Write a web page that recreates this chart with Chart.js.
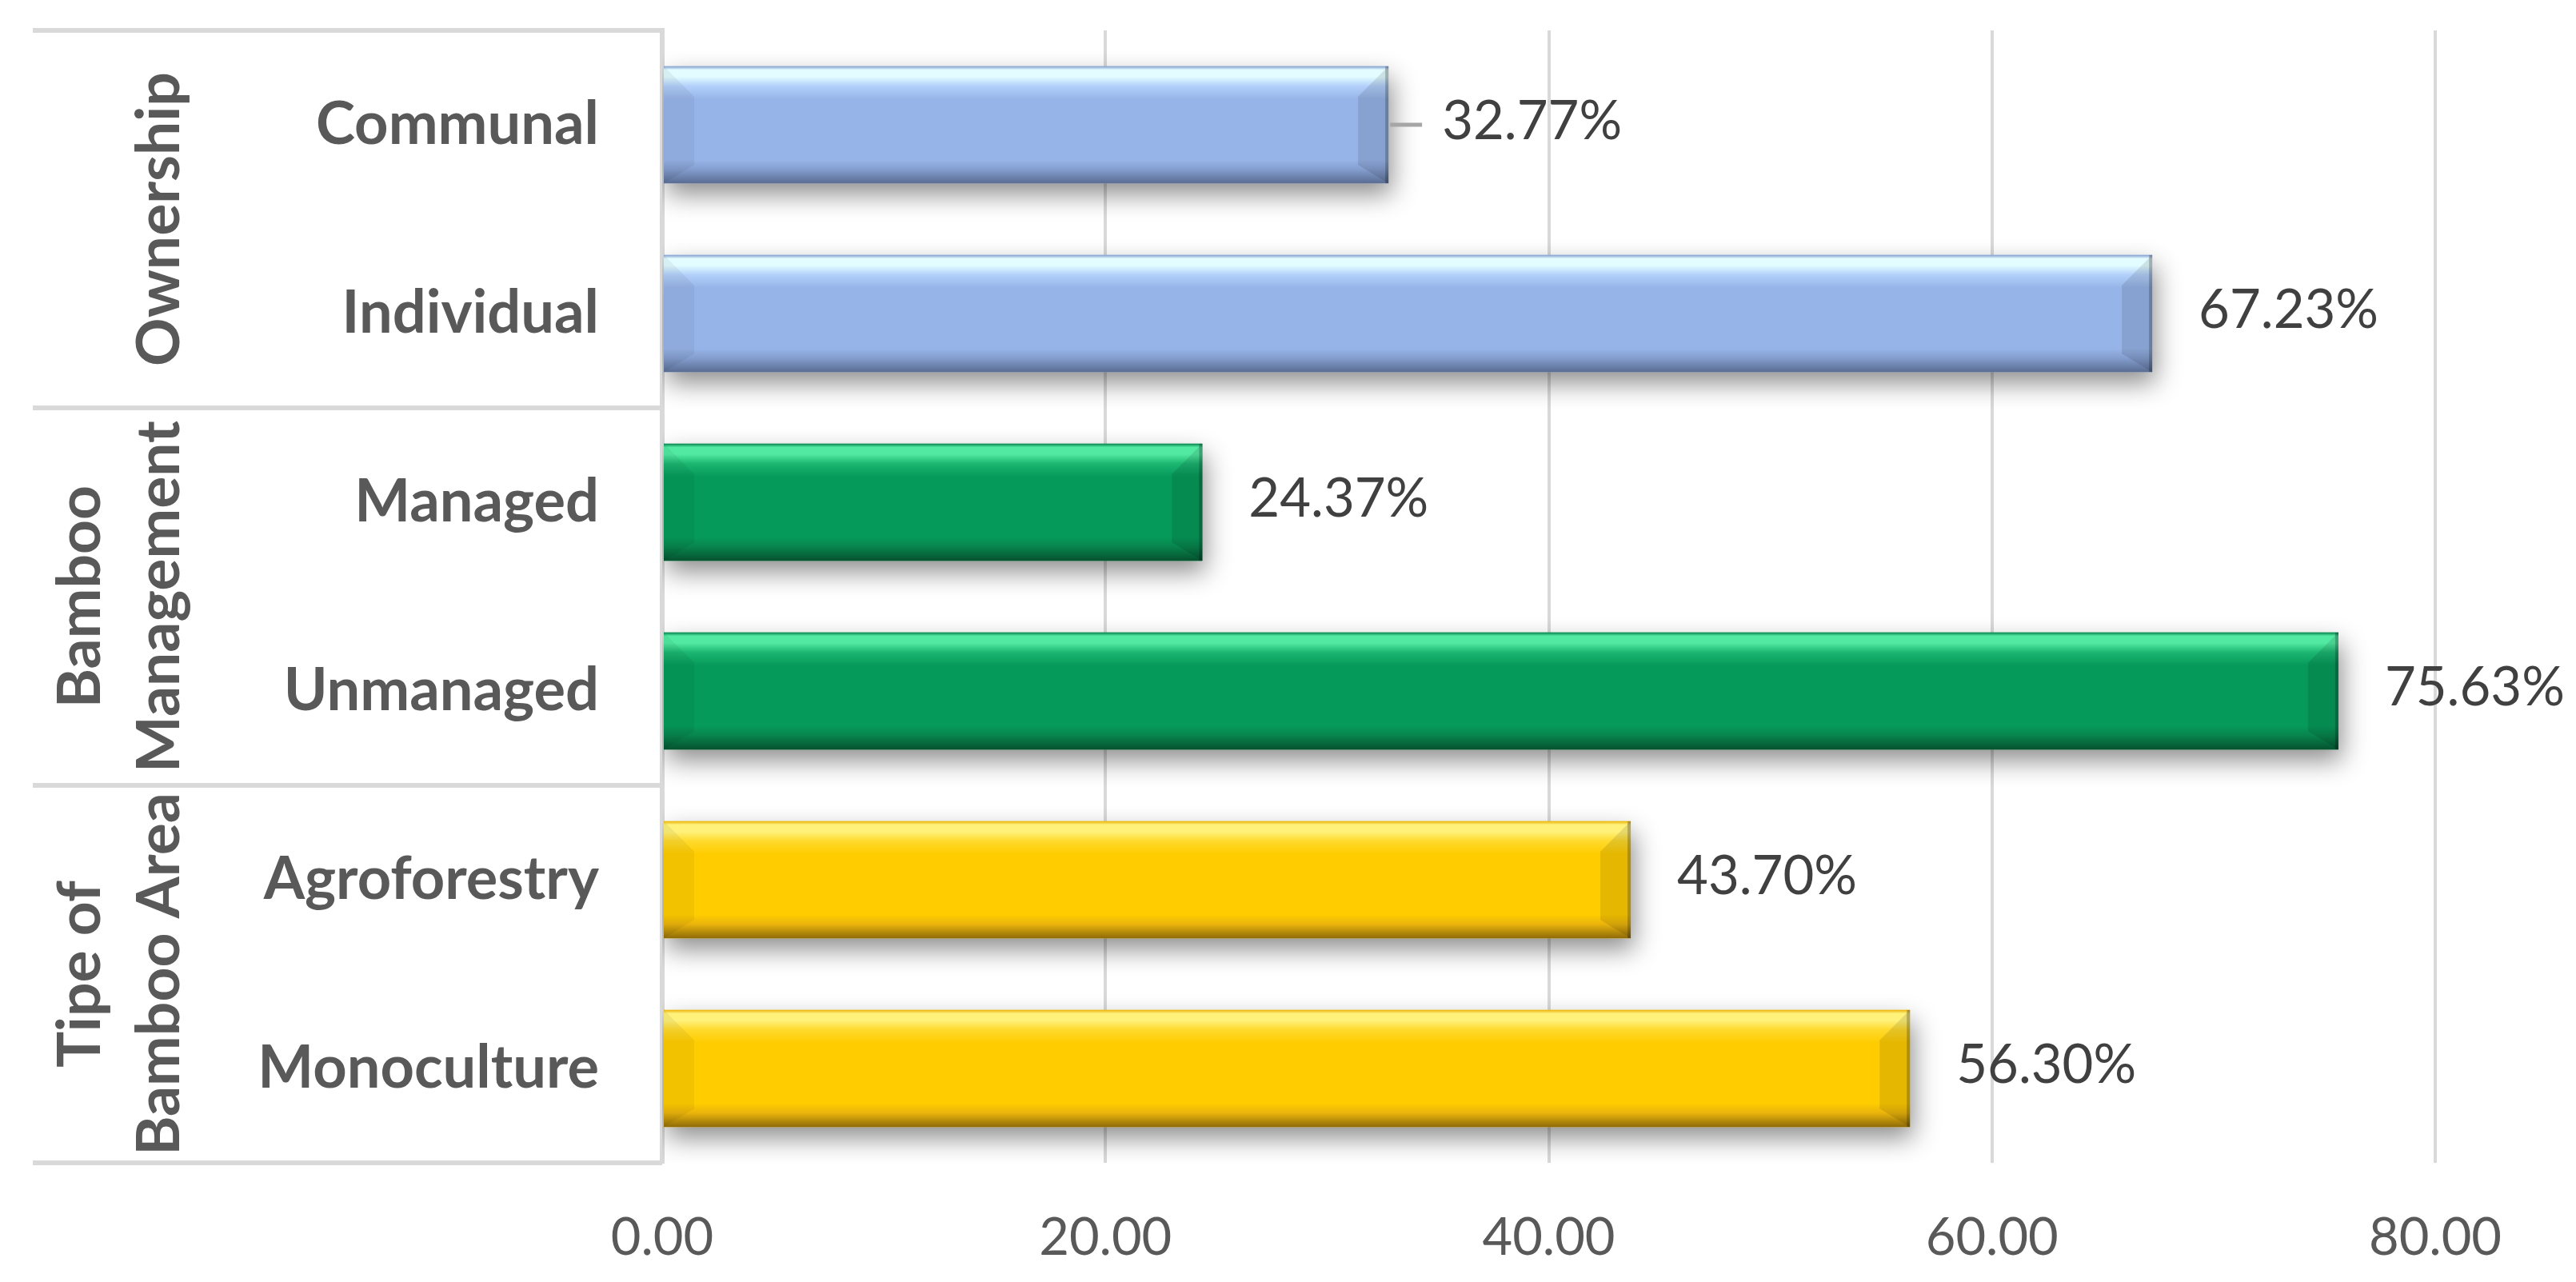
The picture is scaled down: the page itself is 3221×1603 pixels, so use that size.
<!DOCTYPE html>
<html>
<head>
<meta charset="utf-8">
<title>Bamboo area characteristics</title>
<script src="https://cdn.jsdelivr.net/npm/chart.js@4.4.1/dist/chart.umd.min.js"></script>
<style>
  html, body { margin: 0; padding: 0; background: #fff; }
  #wrap { width: 3221px; height: 1603px; }
</style>
</head>
<body>
<div id="wrap"><canvas id="grafico" width="3221" height="1603"></canvas></div>
<script>
// === Data ===
const categories = ["Communal", "Individual", "Managed", "Unmanaged", "Agroforestry", "Monoculture"];
const values = [32.77, 67.23, 24.37, 75.63, 43.70, 56.30];
const groupNames = [["Ownership"], ["Bamboo", "Management"], ["Tipe of", "Bamboo Area"]];
const groupSizes = [2, 2, 2];
const xTicks = [0, 20, 40, 60, 80];

// === Styles ===
// one set of shades per group (bevelled bars)
const shades = [
    { base: "#97B4E8", hi: "#E2FCFF", light: "#B2D0FA", low: "#849ECF", edge: "#5A6D92" },
    { base: "#069A5A", hi: "#52EAA2", light: "#1CB671", low: "#08844D", edge: "#05522F" },
    { base: "#FFCC00", hi: "#FFF17A", light: "#FFDA2C", low: "#EAB40C", edge: "#8E6B08" },
];
const gridColor = "#D9D9D9";
const textColor = "#595959";
const leaderIndex = 0; // label that was dragged out in the original, has a leader line

function groupOf(i) {
    let n = 0;
    for (let g = 0; g < groupSizes.length; g++) {
        n += groupSizes[g];
        if (i < n) return g;
    }
    return groupSizes.length - 1;
}
const barShade = (i) => shades[groupOf(i)];

// === Plugin: drop shadow + bevel shading on the bars ===
const bevelBars = {
    id: "bevelBars",
    beforeDatasetDraw(chart) {
        const ctx = chart.ctx;
        ctx.save();
        ctx.shadowColor = "rgba(0,0,0,0.45)";
        ctx.shadowBlur = 30;
        ctx.shadowOffsetX = 4;
        ctx.shadowOffsetY = 14;
    },
    afterDatasetDraw(chart, args) {
        const ctx = chart.ctx;
        ctx.restore();
        args.meta.data.forEach((bar, i) => {
            const s = barShade(i);
            const { x, y, base, height } = bar.getProps(["x", "y", "base", "height"], true);
            const top = y - height / 2, bottom = y + height / 2;
            const left = base, right = x;

            const g = ctx.createLinearGradient(0, top, 0, bottom);
            g.addColorStop(0, s.low);
            g.addColorStop(0.03, s.hi);
            g.addColorStop(0.09, s.hi);
            g.addColorStop(0.17, s.light);
            g.addColorStop(0.28, s.base);
            g.addColorStop(0.8, s.base);
            g.addColorStop(0.88, s.low);
            g.addColorStop(1, s.edge);
            ctx.fillStyle = g;
            ctx.fillRect(left, top, right - left, height);

            const b = Math.min(38, (right - left) / 2, height / 2);
            // left chamfer
            ctx.fillStyle = "rgba(0,0,0,0.05)";
            ctx.beginPath();
            ctx.moveTo(left, top);
            ctx.lineTo(left + b, top + b);
            ctx.lineTo(left + b, bottom - b * 0.6);
            ctx.lineTo(left, bottom);
            ctx.closePath();
            ctx.fill();
            // right chamfer
            ctx.fillStyle = "rgba(0,0,0,0.1)";
            ctx.beginPath();
            ctx.moveTo(right, top);
            ctx.lineTo(right - b, top + b);
            ctx.lineTo(right - b, bottom - b * 0.6);
            ctx.lineTo(right, bottom);
            ctx.closePath();
            ctx.fill();
            ctx.fillStyle = "rgba(0,0,0,0.22)";
            ctx.fillRect(right - 4, top, 4, height);
        });
    },
};

// === Plugin: value labels at bar ends ===
const valueLabels = {
    id: "valueLabels",
    afterDatasetsDraw(chart) {
        const ctx = chart.ctx;
        const meta = chart.getDatasetMeta(0);
        ctx.save();
        ctx.font = "67px Lato";
        ctx.fillStyle = "#404040";
        ctx.textAlign = "left";
        ctx.textBaseline = "middle";
        meta.data.forEach((bar, i) => {
            let gap = 58;
            if (i === leaderIndex) {
                ctx.strokeStyle = "#A6A6A6";
                ctx.lineWidth = 5;
                ctx.beginPath();
                ctx.moveTo(bar.x + 2, bar.y);
                ctx.lineTo(bar.x + 42, bar.y);
                ctx.stroke();
                gap = 67;
            }
            ctx.fillText(values[i].toFixed(2) + "%", bar.x + gap, bar.y - 4);
        });
        ctx.restore();
    },
};

// === Plugin: group box + rotated group names on the left ===
const groupPanel = {
    id: "groupPanel",
    afterDraw(chart) {
        const { ctx, chartArea, scales } = chart;
        const y = scales.y;
        const band = y.getPixelForValue(1) - y.getPixelForValue(0);
        const panelLeft = 41;

        const edges = [y.getPixelForValue(0) - band / 2];
        let n = 0;
        groupSizes.forEach((size) => {
            n += size;
            edges.push(y.getPixelForValue(n - 1) + band / 2);
        });

        ctx.save();
        ctx.strokeStyle = gridColor;
        ctx.lineWidth = 6;
        edges.forEach((yy) => {
            ctx.beginPath();
            ctx.moveTo(panelLeft, yy);
            ctx.lineTo(chartArea.left, yy);
            ctx.stroke();
        });

        ctx.font = "bold 75px Lato";
        ctx.fillStyle = textColor;
        ctx.textAlign = "center";
        ctx.textBaseline = "middle";
        groupNames.forEach((lines, g) => {
            const yc = (edges[g] + edges[g + 1]) / 2;
            lines.forEach((txt, k) => {
                const xx = 200 - (lines.length - 1 - k) * 99;
                ctx.save();
                ctx.translate(xx, yc);
                ctx.rotate(-Math.PI / 2);
                ctx.fillText(txt, 0, 0);
                ctx.restore();
            });
        });
        ctx.restore();
    },
};

// === Chart ===
new Chart(document.getElementById("grafico"), {
    type: "bar",
    data: {
        labels: categories,
        datasets: [
            {
                data: values,
                backgroundColor: values.map((v, i) => barShade(i).base),
                borderWidth: 0,
                barPercentage: 0.62,
                categoryPercentage: 1,
            },
        ],
    },
    options: {
        indexAxis: "y",
        responsive: false,
        animation: false,
        devicePixelRatio: 1,
        layout: { padding: { top: 38, right: 176, bottom: 0, left: 0 } },
        plugins: {
            legend: { display: false },
            tooltip: { enabled: false },
        },
        scales: {
            x: {
                min: 0,
                max: 80,
                afterBuildTicks: (s) => { s.ticks = xTicks.map((v) => ({ value: v })); },
                afterFit: (s) => {
                    s.height = 149;
                    s.paddingLeft = 0;
                    s.paddingRight = 0;
                },
                grid: { color: gridColor, lineWidth: 4, drawTicks: false },
                border: { display: false },
                ticks: {
                    padding: 55,
                    color: textColor,
                    font: { family: "Lato", size: 65 },
                    callback: (v) => Number(v).toFixed(2),
                },
            },
            y: {
                afterFit: (s) => {
                    s.width = 828;
                    s.paddingTop = 0;
                    s.paddingBottom = 0;
                },
                grid: { display: false, drawTicks: false },
                border: { color: gridColor, width: 6 },
                ticks: {
                    padding: 79,
                    color: textColor,
                    font: { family: "Lato", size: 74, weight: "bold" },
                },
            },
        },
    },
    plugins: [bevelBars, valueLabels, groupPanel],
});
</script>
</body>
</html>
